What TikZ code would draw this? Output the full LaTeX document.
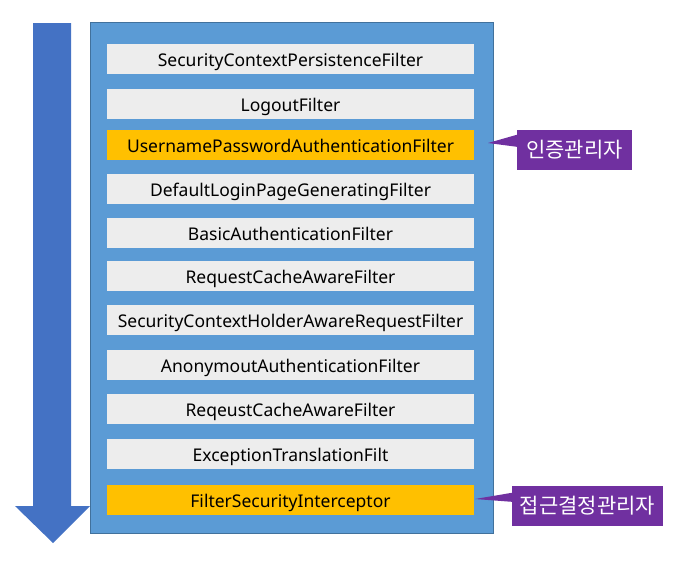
\documentclass[tikz,border=0pt]{standalone}
\usepackage{fontspec}
\setmainfont{Noto Sans}
\newfontfamily\krfont{Noto Sans CJK KR}
\usetikzlibrary{positioning, calc}
\definecolor{flowblue}{HTML}{4472C4}
\definecolor{chainblue}{HTML}{5B9BD5}
\definecolor{chainedge}{HTML}{41719C}
\definecolor{filtergray}{HTML}{EDEDED}
\definecolor{filtergold}{HTML}{FFC000}
\definecolor{notepurple}{HTML}{7030A0}
\tikzset{
    filter/.style={fill=filtergray, minimum width=367pt, minimum height=30pt, inner sep=0pt, text height=16pt, text depth=1pt, font=\fontsize{17.5}{20}\selectfont},
    keyfilter/.style={filter, fill=filtergold},
    note/.style={fill=notepurple, text=white, inner sep=0pt, font=\krfont\fontsize{21}{24}\selectfont}
}

\begin{document}
\begin{tikzpicture}[x=1pt,y=-1pt]
        \useasboundingbox (0,0) rectangle (690,565);
        % flow arrow
        \fill[flowblue] (33,23) -- (71,23) -- (71,506) -- (90,506) -- (53,543) -- (15,506) -- (33,506) -- cycle;
        % filter chain
        \filldraw[fill=chainblue, draw=chainedge, line width=1pt] (90,22) rectangle (493,533);
        \node[filter] (f1) at (290.5,58.5) {SecurityContextPersistenceFilter};
        \node[filter] (f2) at (290.5,103.5) {LogoutFilter};
        \node[keyfilter] (f3) at (290.5,144.5) {UsernamePasswordAuthenticationFilter};
        \node[filter] (f4) at (290.5,188.5) {DefaultLoginPageGeneratingFilter};
        \node[filter] (f5) at (290.5,233) {BasicAuthenticationFilter};
        \node[filter] (f6) at (290.5,275.5) {RequestCacheAwareFilter};
        \node[filter] (f7) at (290.5,319.5) {SecurityContextHolderAwareRequestFilter};
        \node[filter] (f8) at (290.5,365) {AnonymoutAuthenticationFilter};
        \node[filter] (f9) at (290.5,409) {ReqeustCacheAwareFilter};
        \node[filter] (f10) at (290.5,454) {ExceptionTranslationFilt};
        \node[keyfilter] (f11) at (290.5,500) {FilterSecurityInterceptor};
        % callouts
        \node[note, minimum width=115pt, minimum height=40pt] (authm) at (574.5,150) {인증관리자};
        \coordinate (authtip) at (488,143);
        \fill[notepurple] ($(authm.north west)+(0,5)$) -- (authtip) -- ($(authm.north west)+(0,17)$) -- cycle;
        \node[note, minimum width=151pt, minimum height=40pt] (accm) at (587.5,506) {접근결정관리자};
        \coordinate (acctip) at (475,499);
        \fill[notepurple] ($(accm.north west)+(0,7)$) -- (acctip) -- ($(accm.north west)+(0,16)$) -- cycle;
    \end{tikzpicture}
\end{document}
